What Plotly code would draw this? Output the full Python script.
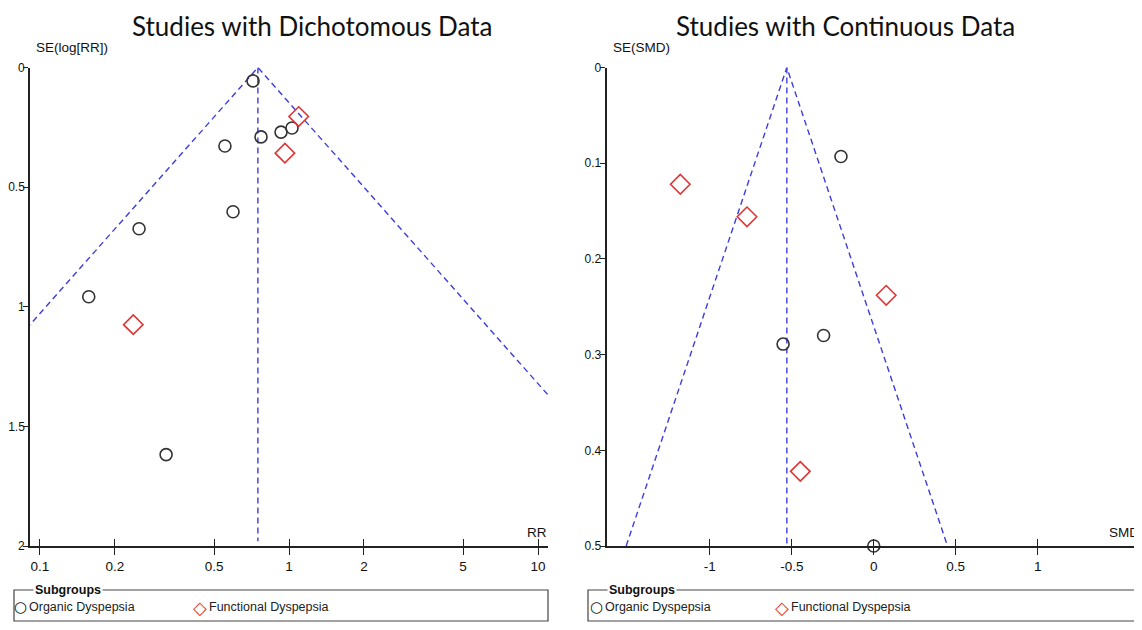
import math
import plotly.graph_objects as go

# ---------------- data ----------------
# Left: dichotomous (RR vs SE(log RR))
org_rr = [0.717, 0.553, 0.772, 0.929, 1.028, 0.596, 0.25, 0.157, 0.321]
org_se_rr = [0.056, 0.328, 0.29, 0.27, 0.253, 0.603, 0.674, 0.958, 1.618]
fun_rr = [1.094, 0.963, 0.237]
fun_se_rr = [0.205, 0.358, 1.075]
pooled_rr = 0.75
rr_ticks = [0.1, 0.2, 0.5, 1, 2, 5, 10]
se_rr_ticks = [0, 0.5, 1, 1.5, 2]

# Right: continuous (SMD vs SE(SMD))
org_smd = [-0.2, -0.553, -0.306, 0.0]
org_se_smd = [0.093, 0.289, 0.28, 0.5]
fun_smd = [-1.18, -0.773, 0.076, -0.448]
fun_se_smd = [0.122, 0.156, 0.238, 0.422]
pooled_smd = -0.53
smd_ticks = [-1, -0.5, 0, 0.5, 1]
se_smd_ticks = [0, 0.1, 0.2, 0.3, 0.4, 0.5]

titles = ["Studies with Dichotomous Data", "Studies with Continuous Data"]
legend_names = ["Organic Dyspepsia", "Functional Dyspepsia"]

# ---------------- geometry (page has an 8px body margin) ----------------
PAGE_W, PAGE_H = 1142, 630
M = 8
W, H = PAGE_W - M, PAGE_H - 2 * M

BLUE = "#3d3de0"
RED = "#e03535"
DARK = "#333333"
NARROW = "Liberation Sans Narrow, Arial Narrow, Liberation Sans, Arial"


def px(p):
    return min(max((p - M) / W, 0), 1)


def py(p):
    return min(max(1 - (p - M) / H, 0), 1)


fig = go.Figure()
dash = dict(color=BLUE, width=1.4, dash="6px,4px")

# funnel lines (left, log scale)
se_max_l = se_rr_ticks[-1]
fx = [pooled_rr * math.exp(-1.96 * se_max_l), pooled_rr, pooled_rr * math.exp(1.96 * se_max_l)]
fig.add_trace(go.Scatter(x=fx, y=[se_max_l, 0, se_max_l], mode="lines", line=dash,
                         xaxis="x", yaxis="y", showlegend=False, hoverinfo="skip"))
fig.add_trace(go.Scatter(x=[pooled_rr, pooled_rr], y=[0, 1.98], mode="lines", line=dash,
                         xaxis="x", yaxis="y", showlegend=False, hoverinfo="skip"))
fig.add_trace(go.Scatter(x=org_rr, y=org_se_rr, mode="markers", name=legend_names[0],
                         marker=dict(symbol="circle-open", size=12, color=DARK, line=dict(width=1.6)),
                         xaxis="x", yaxis="y", showlegend=False, cliponaxis=False))
fig.add_trace(go.Scatter(x=fun_rr, y=fun_se_rr, mode="markers", name=legend_names[1],
                         marker=dict(symbol="diamond-open", size=15, color=RED, line=dict(width=1.6)),
                         xaxis="x", yaxis="y", showlegend=False, cliponaxis=False))

# funnel lines (right)
se_max_r = se_smd_ticks[-1]
gx = [pooled_smd - 1.96 * se_max_r, pooled_smd, pooled_smd + 1.96 * se_max_r]
fig.add_trace(go.Scatter(x=gx, y=[se_max_r, 0, se_max_r], mode="lines", line=dash,
                         xaxis="x2", yaxis="y2", showlegend=False, hoverinfo="skip"))
fig.add_trace(go.Scatter(x=[pooled_smd, pooled_smd], y=[0, se_max_r], mode="lines", line=dash,
                         xaxis="x2", yaxis="y2", showlegend=False, hoverinfo="skip"))
fig.add_trace(go.Scatter(x=org_smd, y=org_se_smd, mode="markers", name=legend_names[0],
                         marker=dict(symbol="circle-open", size=12, color=DARK, line=dict(width=1.6)),
                         xaxis="x2", yaxis="y2", showlegend=False, cliponaxis=False))
fig.add_trace(go.Scatter(x=fun_smd, y=fun_se_smd, mode="markers", name=legend_names[1],
                         marker=dict(symbol="diamond-open", size=15, color=RED, line=dict(width=1.6)),
                         xaxis="x2", yaxis="y2", showlegend=False, cliponaxis=False))

ydom = [py(546), py(67.5)]
xtickfont = dict(family=NARROW, size=13.5, color="#111")
ytickfont = dict(family=NARROW, size=12, color="#111")

common_x = dict(showgrid=False, zeroline=False, showline=True, linecolor="#222", linewidth=1.6,
                ticks="outside", ticklen=7, tickwidth=1.4, tickcolor="#222", tickfont=xtickfont,
                automargin=False)
common_y = dict(showgrid=False, zeroline=False, showline=True, linecolor="#222", linewidth=1.6,
                ticks="outside", ticklen=5, tickwidth=1.4, tickcolor="#222", tickfont=ytickfont,
                ticklabelstandoff=-4, automargin=False)

lx_range = [-1.04, 1.04]
rx_range = [-1.63, 1.63]
over = dict(ticks="inside", ticklen=7, tickwidth=1.4, tickcolor="#222", showticklabels=False,
            showgrid=False, zeroline=False, showline=False, automargin=False)

fig.update_layout(
    width=W, height=H, margin=dict(l=0, r=0, t=0, b=0, pad=0), autosize=False,
    paper_bgcolor="white", plot_bgcolor="white",
    xaxis=dict(domain=[px(30), px(548)], type="log", range=lx_range, anchor="y",
               tickvals=rr_ticks, ticktext=[str(t) for t in rr_ticks], **common_x),
    yaxis=dict(domain=ydom, range=[2, 0], anchor="x", tickvals=se_rr_ticks,
               ticktext=["0", "0.5", "1", "1.5", "2"], **common_y),
    xaxis2=dict(domain=[px(606.5), px(1141)], range=rx_range, anchor="y2",
                tickvals=smd_ticks, ticktext=["-1", "-0.5", "0", "0.5", "1"], **common_x),
    yaxis2=dict(domain=ydom, range=[0.5, 0], anchor="x2", tickvals=se_smd_ticks,
                ticktext=["0", "0.1", "0.2", "0.3", "0.4", "0.5"], **common_y),
    # overlay axes so ticks cross the axis lines
    xaxis3=dict(overlaying="x", type="log", range=lx_range, anchor="y", side="bottom",
                tickvals=rr_ticks, **over),
    xaxis4=dict(overlaying="x2", range=rx_range, anchor="y2", side="bottom",
                tickvals=smd_ticks, **over),
    showlegend=False,
)

fig.add_trace(go.Scatter(x=[rr_ticks[0]], y=[0], xaxis="x3", yaxis="y", mode="markers",
                         marker=dict(opacity=0), showlegend=False, hoverinfo="skip"))
fig.add_trace(go.Scatter(x=[smd_ticks[0]], y=[0], xaxis="x4", yaxis="y2", mode="markers",
                         marker=dict(opacity=0), showlegend=False, hoverinfo="skip"))

ann = []
for t, cx in zip(titles, [312, 845]):
    ann.append(dict(text=t, x=px(cx), y=py(8.5), xanchor="center", yanchor="top", borderpad=0,
                    font=dict(family="Lato, Open Sans, Liberation Sans", size=26, color="#111")))
small = dict(family=NARROW, size=13.5, color="#111")
ann += [
    dict(text="SE(log[RR])", x=px(34), y=py(47), xanchor="left", yanchor="middle", font=small),
    dict(text="RR", x=px(549), y=py(532), xanchor="right", yanchor="middle", font=small),
    dict(text="SE(SMD)", x=px(611), y=py(47), xanchor="left", yanchor="middle", font=small),
    dict(text="SMD", x=px(1141), y=py(532), xanchor="right", yanchor="middle", font=small),
]

shapes = []
for (x0, x1, sub_x, c_x, d_x) in [(14, 548, 33, 20, 200), (588, 1140, 607, 596, 782)]:
    shapes.append(dict(type="rect", xref="paper", yref="paper", x0=px(x0), x1=px(x1),
                       y0=py(621), y1=py(590), line=dict(color="#444", width=1.2)))
    ann.append(dict(text="<b>Subgroups</b>", x=px(sub_x), y=py(590), xanchor="left", yanchor="middle",
                    bgcolor="white", borderpad=1,
                    font=dict(family=NARROW, size=12.5, color="#111")))
    ann.append(dict(text="○", x=px(c_x), y=py(607), xanchor="center", yanchor="middle",
                    font=dict(family="DejaVu Sans", size=15, color="#111")))
    ann.append(dict(text=legend_names[0], x=px(c_x + 7), y=py(607), xanchor="left", yanchor="middle",
                    font=dict(family=NARROW, size=12.5, color="#222")))
    ann.append(dict(text="◇", x=px(d_x), y=py(607), xanchor="center", yanchor="middle",
                    font=dict(family="DejaVu Sans", size=18, color=RED)))
    ann.append(dict(text=legend_names[1], x=px(d_x + 7), y=py(607), xanchor="left", yanchor="middle",
                    font=dict(family=NARROW, size=12.5, color="#222")))

for a in ann:
    a.setdefault("xref", "paper")
    a.setdefault("yref", "paper")
    a.setdefault("showarrow", False)

fig.update_layout(annotations=ann, shapes=shapes)
fig.write_html("out.html")
